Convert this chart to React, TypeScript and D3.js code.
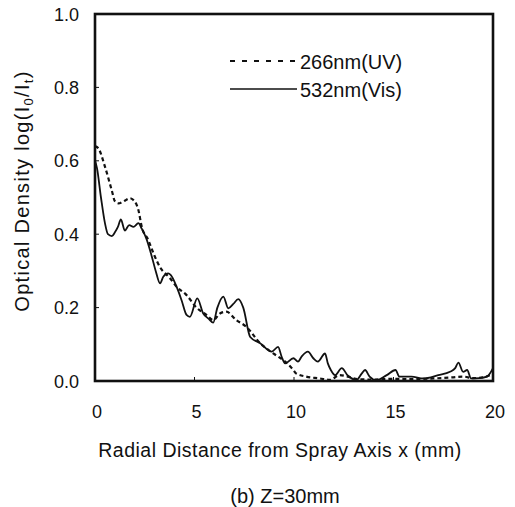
import React from "react";
import * as d3 from "d3";

const visX = [0, 0.1, 0.3, 0.5, 0.65, 0.85, 1.0, 1.15, 1.3, 1.5, 1.72, 1.93, 2.18, 2.35, 2.6, 2.85, 3.05, 3.27, 3.43, 3.68, 3.8, 4.1, 4.35, 4.6, 4.77, 5.14, 5.44, 5.7, 5.94, 6.15, 6.45, 6.7, 6.95, 7.2, 7.45, 7.8, 8.3, 8.88, 9.2, 9.38, 9.55, 9.97, 10.2, 10.4, 10.7, 10.97, 11.2, 11.56, 11.7, 11.85, 12.06, 12.4, 12.7, 13.15, 13.4, 13.57, 13.8, 14.15, 14.66, 15.1, 15.3, 15.9, 16.5, 17.25, 17.84, 18.1, 18.26, 18.5, 18.7, 18.9, 19.3, 19.7, 20];
const visY = [0.6, 0.58, 0.5, 0.43, 0.4, 0.395, 0.405, 0.42, 0.44, 0.41, 0.425, 0.42, 0.43, 0.415, 0.385, 0.34, 0.3, 0.266, 0.284, 0.293, 0.289, 0.257, 0.22, 0.18, 0.175, 0.225, 0.184, 0.17, 0.159, 0.2, 0.23, 0.198, 0.21, 0.223, 0.2, 0.12, 0.103, 0.08, 0.093, 0.066, 0.048, 0.062, 0.053, 0.068, 0.08, 0.062, 0.053, 0.075, 0.048, 0.03, 0.016, 0.035, 0.015, 0.003, 0.02, 0.03, 0.012, 0.002, 0.016, 0.03, 0.012, 0.012, 0.007, 0.016, 0.025, 0.035, 0.05, 0.025, 0.03, 0.007, 0.008, 0.012, 0.035];

const uvX = [0, 0.17, 0.5, 0.84, 1.0, 1.17, 1.42, 1.76, 1.93, 2.18, 2.35, 2.68, 2.85, 3.0, 3.27, 3.77, 4.1, 4.6, 5.1, 5.6, 5.94, 6.28, 6.6, 7.1, 7.6, 8.3, 8.96, 9.46, 9.97, 10.1, 10.6, 11.3, 11.8, 12.3, 12.7, 13.2, 14, 15, 16, 17, 18, 18.5, 19, 19.5, 20];
const uvY = [0.64, 0.634, 0.584, 0.52, 0.49, 0.484, 0.489, 0.498, 0.493, 0.466, 0.42, 0.384, 0.36, 0.34, 0.31, 0.28, 0.257, 0.234, 0.2, 0.18, 0.166, 0.184, 0.189, 0.166, 0.148, 0.103, 0.075, 0.057, 0.03, 0.021, 0.012, 0.007, 0.003, 0.016, 0.012, 0.005, 0.004, 0.006, 0.005, 0.007, 0.01, 0.012, 0.008, 0.01, 0.02];

const xTicks = [0, 5, 10, 15, 20];
const yTicks = [0, 0.2, 0.4, 0.6, 0.8, 1.0];
const legendLabels = ["266nm(UV)", "532nm(Vis)"];

const FONT = "'Liberation Sans', Arial, sans-serif";

export default function App() {
  const left = 95, right = 493, top = 14, bottom = 381;
  const x = d3.scaleLinear().domain([0, 20]).range([left, right]);
  const y = d3.scaleLinear().domain([0, 1]).range([bottom, top]);
  const line = d3
    .line<[number, number]>()
    .x((d) => x(d[0]))
    .y((d) => y(d[1]))
    .curve(d3.curveMonotoneX);
  const uvPath = line(uvX.map((v, i) => [v, uvY[i]]) as [number, number][]) || "";
  const visPath = line(visX.map((v, i) => [v, visY[i]]) as [number, number][]) || "";

  return (
    <svg
      width={515}
      height={507}
      style={{ position: "absolute", left: 0, top: 0, background: "#fff" }}
      fontFamily={FONT}
    >
      <rect x={0} y={0} width={515} height={507} fill="#fff" />
      <path d={visPath} fill="none" stroke="#111" strokeWidth={1.8} />
      <path d={uvPath} fill="none" stroke="#111" strokeWidth={2.2} strokeDasharray="4,3" />
      {/* frame */}
      <rect x={left} y={top} width={right - left} height={bottom - top} fill="none" stroke="#111" strokeWidth={2.6} />
      {yTicks.map((t) => (
        <g key={"y" + t}>
          <line x1={left} x2={left + 4} y1={y(t)} y2={y(t)} stroke="#111" strokeWidth={1} />
          <text x={79} y={y(t) + 6.5} fontSize={18} textAnchor="end" fill="#111">
            {t.toFixed(1)}
          </text>
        </g>
      ))}
      {xTicks.map((t) => (
        <g key={"x" + t}>
          <line x1={x(t)} x2={x(t)} y1={bottom} y2={bottom - 4} stroke="#111" strokeWidth={1} />
          <text x={x(t) + 2} y={418} fontSize={18} textAnchor="middle" fill="#111">
            {t}
          </text>
        </g>
      ))}
      {/* legend */}
      <line x1={230} x2={297} y1={61} y2={61} stroke="#111" strokeWidth={2.2} strokeDasharray="5,7" />
      <line x1={230} x2={297} y1={89} y2={89} stroke="#111" strokeWidth={1.6} />
      <text x={300} y={69} fontSize={20} fill="#111">{legendLabels[0]}</text>
      <text x={300} y={97} fontSize={20} fill="#111">{legendLabels[1]}</text>
      {/* axis labels */}
      <text x={280} y={457} fontSize={19.5} textAnchor="middle" fill="#111" letterSpacing={0.5}>
        Radial Distance from Spray Axis x (mm)
      </text>
      <text
        transform="translate(29,191) rotate(-90)"
        fontSize={20}
        textAnchor="middle"
        fill="#111"
        letterSpacing={1.3}
      >
        Optical Density log(I<tspan fontSize={13} dy={4}>0</tspan>
        <tspan dy={-4}>/I</tspan>
        <tspan fontSize={13} dy={4}>t</tspan>
        <tspan dy={-4}>)</tspan>
      </text>
      <text x={285} y={503} fontSize={20} textAnchor="middle" fill="#111">
        (b) Z=30mm
      </text>
    </svg>
  );
}
